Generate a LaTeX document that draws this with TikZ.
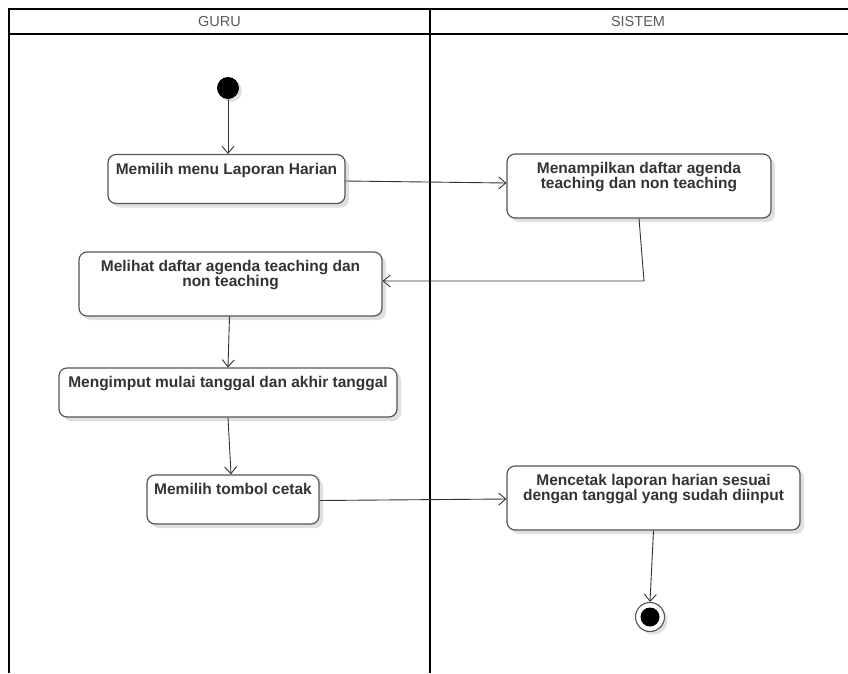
\documentclass[tikz,border=0pt]{standalone}
\usepackage{fontspec}
\setmainfont{Liberation Sans}
\usetikzlibrary{arrows.meta,shadows}
\definecolor{boxline}{HTML}{555555}
\definecolor{txt}{HTML}{333333}
\definecolor{flowc}{HTML}{333333}
\tikzset{
  lane/.style={draw=black, line width=1.8pt},
  act/.style={draw=boxline, line width=1.2pt, rounded corners=8pt, fill=white, inner sep=0pt,
    drop shadow={shadow xshift=4pt, shadow yshift=-4pt, opacity=0.12, fill=black}},
  acttext/.style={anchor=north, align=center, inner sep=0pt, text=txt,
    font=\fontsize{15.5}{15}\selectfont\bfseries},
  hdr/.style={text=black!65, font=\fontsize{14.5}{16}\selectfont},
  flow/.style={draw=flowc, line width=0.9pt, -{Straight Barb[length=7pt, width=12pt, line width=0.9pt]}},
}
\begin{document}
\begin{tikzpicture}[x=1pt,y=-1pt]
\useasboundingbox (0,0) rectangle (848,673);
% swimlanes
\coordinate (tl) at (9,9);
\coordinate (tr) at (848,9);
\coordinate (hl) at (9,34);
\coordinate (hr) at (848,34);
\coordinate (bl) at (9,673);
\coordinate (mt) at (430,9);
\coordinate (mb) at (430,673);
\draw[lane] (tr) -- (tl) -- (bl);
\draw[lane] (hl) -- (hr);
\draw[lane] (mt) -- (mb);
\node[hdr] (guru) at (219.5,22) {GURU};
\node[hdr] (sistem) at (638,22) {SISTEM};
% start
\node[circle, fill=black, minimum size=22pt, inner sep=0pt,
  drop shadow={shadow xshift=3pt, shadow yshift=-3pt, opacity=0.12, fill=black}] (start) at (228,88) {};
% activities
\node[act, minimum width=237pt, minimum height=49pt] (b1) at (226.5,179) {};
\node[acttext] (t1) at ([yshift=-9pt]b1.north) {Memilih menu Laporan Harian};
\node[act, minimum width=264pt, minimum height=64pt] (b2) at (639,186) {};
\node[acttext] (t2) at ([yshift=-9pt]b2.north) {Menampilkan daftar agenda\\teaching dan non teaching};
\node[act, minimum width=303pt, minimum height=64pt] (b3) at (230.5,284) {};
\node[acttext] (t3) at ([yshift=-9pt]b3.north) {Melihat daftar agenda teaching dan\\non teaching};
\node[act, minimum width=338pt, minimum height=49pt] (b4) at (228,392.5) {};
\node[acttext] (t4) at ([yshift=-9pt]b4.north) {Mengimput mulai tanggal dan akhir tanggal};
\node[act, minimum width=172pt, minimum height=49pt] (b5) at (233,499.5) {};
\node[acttext] (t5) at ([yshift=-9pt]b5.north) {Memilih tombol cetak};
\node[act, minimum width=293pt, minimum height=64pt] (b6) at (653.5,498) {};
\node[acttext] (t6) at ([yshift=-9pt]b6.north) {Mencetak laporan harian sesuai\\dengan tanggal yang sudah diinput};
% end
\node[circle, draw=boxline, line width=1.1pt, fill=white, minimum size=29pt, inner sep=0pt,
  drop shadow={shadow xshift=3pt, shadow yshift=-3pt, opacity=0.12, fill=black}] (end) at (650,617) {};
\node[circle, fill=black, minimum size=19pt, inner sep=0pt] (endin) at (end.center) {};
% flows
\coordinate (c1) at (644,281);
\draw[flow] (start.south) -- (start.south |- b1.north);
\draw[flow] ([yshift=-2pt]b1.east) -- ([yshift=3pt]b2.west);
\draw[flow] (b2.south) -- (c1) -- (c1 -| b3.east);
\draw[flow] ([xshift=-1pt]b3.south) -- (b4.north);
\draw[flow] (b4.south) -- ([xshift=-2pt]b5.north);
\draw[flow] ([yshift=-1pt]b5.east) -- ([yshift=-1pt]b6.west);
\draw[flow] (b6.south) -- (end.north);
\end{tikzpicture}
\end{document}
